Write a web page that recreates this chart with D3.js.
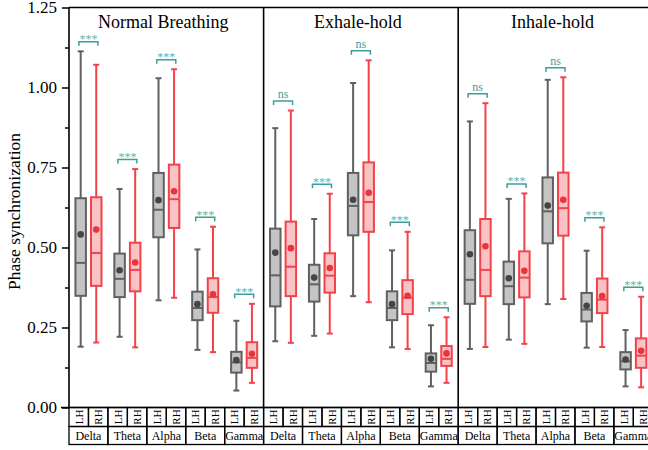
<!DOCTYPE html>
<html>
<head>
<meta charset="utf-8">
<script src="https://cdn.jsdelivr.net/npm/d3@7"></script>
<style>
  body { margin: 0; background: #fff; }
  text { font-family: "Liberation Serif", "Times New Roman", serif; }
</style>
</head>
<body>
<div id="chart"></div>
<script>
const conditions = ['Normal Breathing', 'Exhale-hold', 'Inhale-hold'];
const bands = ['Delta', 'Theta', 'Alpha', 'Beta', 'Gamma'];
const hands = ['LH', 'RH'];

// each row: [lower whisker, q1, median, q3, upper whisker, mean]
const normalLH = [[0.190, 0.349, 0.452, 0.654, 1.113, 0.541], [0.221, 0.345, 0.402, 0.481, 0.683, 0.429], [0.335, 0.532, 0.618, 0.733, 1.029, 0.648], [0.180, 0.273, 0.311, 0.362, 0.494, 0.323], [0.053, 0.109, 0.141, 0.174, 0.271, 0.148]];
const normalRH = [[0.203, 0.380, 0.483, 0.657, 1.071, 0.556], [0.188, 0.363, 0.430, 0.515, 0.745, 0.453], [0.343, 0.561, 0.651, 0.759, 1.057, 0.676], [0.173, 0.296, 0.345, 0.404, 0.565, 0.354], [0.077, 0.124, 0.155, 0.204, 0.324, 0.168]];
const exhaleLH = [[0.207, 0.316, 0.413, 0.559, 0.873, 0.484], [0.224, 0.331, 0.385, 0.446, 0.589, 0.406], [0.348, 0.538, 0.630, 0.733, 1.014, 0.649], [0.188, 0.273, 0.311, 0.363, 0.491, 0.323], [0.066, 0.112, 0.139, 0.169, 0.257, 0.152]];
const exhaleRH = [[0.202, 0.348, 0.440, 0.581, 0.928, 0.498], [0.231, 0.359, 0.412, 0.482, 0.668, 0.436], [0.329, 0.549, 0.642, 0.766, 1.085, 0.671], [0.183, 0.292, 0.343, 0.398, 0.549, 0.349], [0.077, 0.130, 0.152, 0.192, 0.282, 0.169]];
const inhaleLH = [[0.183, 0.324, 0.399, 0.554, 0.894, 0.479], [0.212, 0.323, 0.379, 0.456, 0.652, 0.404], [0.323, 0.513, 0.613, 0.719, 1.024, 0.631], [0.187, 0.269, 0.306, 0.358, 0.490, 0.318], [0.066, 0.119, 0.144, 0.173, 0.242, 0.150]];
const inhaleRH = [[0.189, 0.348, 0.430, 0.589, 0.951, 0.504], [0.199, 0.344, 0.406, 0.488, 0.669, 0.427], [0.339, 0.537, 0.623, 0.734, 1.032, 0.649], [0.189, 0.295, 0.337, 0.403, 0.563, 0.348], [0.063, 0.124, 0.162, 0.216, 0.346, 0.177]];

const normalSig = ['***', '***', '***', '***', '***'];
const exhaleSig = ['ns', '***', 'ns', '***', '***'];
const inhaleSig = ['ns', '***', 'ns', '***', '***'];

const yTicks = [0, 0.25, 0.5, 0.75, 1.0, 1.25];
const yMinorTicks = [0.125, 0.375, 0.625, 0.875, 1.125];

const panels = [
  { name: conditions[0], LH: normalLH, RH: normalRH, sig: normalSig },
  { name: conditions[1], LH: exhaleLH, RH: exhaleRH, sig: exhaleSig },
  { name: conditions[2], LH: inhaleLH, RH: inhaleRH, sig: inhaleSig }
];

const w = 648, h = 450;
const plotLeft = 69, plotTop = 7.5, plotBottom = 407.5;
const panelW = 194.6;

const colors = {
  LH: { stroke: '#606060', fill: '#c4c4c4', mean: '#454545' },
  RH: { stroke: '#f2434b', fill: '#f9c3c5', mean: '#e8353c' }
};
const teal = '#3f9d99';

const svg = d3.select('#chart').append('svg')
  .attr('width', w).attr('height', h);

const y = d3.scaleLinear().domain([0, 1.25]).range([plotBottom, plotTop]);
const panelX = d3.scaleBand().domain(conditions).range([plotLeft, plotLeft + 3 * panelW]);
const groupX = d3.scaleBand().domain(bands).range([0, panelX.bandwidth()]);
const handX = d3.scalePoint().domain(hands).range([0, groupX.bandwidth()]).padding(0.75);
const cellW = groupX.bandwidth() / 2;
const boxW = 10.5, capW = 6;

// y axis
const yAxis = svg.append('g')
  .attr('transform', `translate(${plotLeft},0)`)
  .call(d3.axisLeft(y).tickValues(yTicks).tickSize(7).tickFormat(d3.format('.2f')));
yAxis.select('.domain').remove();
yAxis.selectAll('line').attr('stroke', '#000').attr('stroke-width', 1.5);
yAxis.selectAll('text').attr('font-size', 17).attr('x', -12)
  .style('font-family', '"Liberation Serif", serif');

const yMinor = svg.append('g')
  .attr('transform', `translate(${plotLeft},0)`)
  .call(d3.axisLeft(y).tickValues(yMinorTicks).tickSize(4).tickFormat(''));
yMinor.select('.domain').remove();
yMinor.selectAll('line').attr('stroke', '#000').attr('stroke-width', 1.5);

svg.append('text')
  .attr('transform', `translate(20,${(plotTop + plotBottom) / 2 + 4}) rotate(-90)`)
  .attr('text-anchor', 'middle')
  .attr('font-size', 17.5)
  .text('Phase synchronization');

panels.forEach(p => {
  const g = svg.append('g').attr('transform', `translate(${panelX(p.name)},0)`);

  g.append('text')
    .attr('x', panelX.bandwidth() / 2 - 3)
    .attr('y', 28)
    .attr('text-anchor', 'middle')
    .attr('font-size', 18)
    .text(p.name);

  bands.forEach((b, i) => {
    let topMost = plotBottom;
    hands.forEach(hd => {
      const d = p[hd][i];
      const cx = groupX(b) + handX(hd);
      const c = colors[hd];
      topMost = Math.min(topMost, y(d[4]));

      g.append('line')
        .attr('x1', cx).attr('x2', cx)
        .attr('y1', y(d[0])).attr('y2', y(d[4]))
        .attr('stroke', c.stroke).attr('stroke-width', 2);
      [d[0], d[4]].forEach(v => {
        g.append('line')
          .attr('x1', cx - capW / 2).attr('x2', cx + capW / 2)
          .attr('y1', y(v)).attr('y2', y(v))
          .attr('stroke', c.stroke).attr('stroke-width', 2);
      });
      g.append('rect')
        .attr('x', cx - boxW / 2).attr('width', boxW)
        .attr('y', y(d[3])).attr('height', y(d[1]) - y(d[3]))
        .attr('fill', c.fill).attr('stroke', c.stroke).attr('stroke-width', 2);
      g.append('line')
        .attr('x1', cx - boxW / 2).attr('x2', cx + boxW / 2)
        .attr('y1', y(d[2])).attr('y2', y(d[2]))
        .attr('stroke', c.stroke).attr('stroke-width', 2);
      g.append('circle')
        .attr('cx', cx).attr('cy', y(d[5])).attr('r', 3.3)
        .attr('fill', c.mean);
    });

    // significance bracket
    const gc = groupX(b) + groupX.bandwidth() / 2;
    const by = topMost - 9.5;
    g.append('path')
      .attr('d', `M${gc - 9.5},${by + 4}V${by}H${gc + 9.5}V${by + 4}`)
      .attr('fill', 'none').attr('stroke', teal).attr('stroke-width', 1.5);
    const s = p.sig[i];
    g.append('text')
      .attr('x', gc)
      .attr('y', s === 'ns' ? by - 3 : by + 1.5)
      .attr('text-anchor', 'middle')
      .attr('font-size', 12)
      .attr('fill', s === 'ns' ? teal : '#5cb5b0')
      .text(s);

    // category table under the axis
    hands.forEach((hd, k) => {
      const x0 = groupX(b) + k * cellW;
      g.append('rect')
        .attr('x', x0).attr('y', plotBottom)
        .attr('width', cellW).attr('height', 19)
        .attr('fill', 'none').attr('stroke', '#000').attr('stroke-width', 1.3);
      g.append('text')
        .attr('transform', `translate(${x0 + cellW / 2 + 4},${plotBottom + 9.5}) rotate(-90)`)
        .attr('text-anchor', 'middle')
        .attr('font-size', 11)
        .text(hd);
    });
    g.append('rect')
      .attr('x', groupX(b)).attr('y', plotBottom + 19)
      .attr('width', groupX.bandwidth()).attr('height', 18)
      .attr('fill', 'none').attr('stroke', '#000').attr('stroke-width', 1.3);
    g.append('text')
      .attr('x', gc).attr('y', plotBottom + 32.5)
      .attr('text-anchor', 'middle')
      .attr('font-size', 12)
      .text(b);
  });

  // panel frame
  g.append('line')
    .attr('x1', 0).attr('x2', 0).attr('y1', plotTop).attr('y2', plotBottom)
    .attr('stroke', '#000').attr('stroke-width', 1.6);
});

// frame top and axis line
svg.append('line')
  .attr('x1', plotLeft).attr('x2', w).attr('y1', plotTop).attr('y2', plotTop)
  .attr('stroke', '#000').attr('stroke-width', 1.6);
svg.append('line')
  .attr('x1', 61).attr('x2', w).attr('y1', plotBottom).attr('y2', plotBottom)
  .attr('stroke', '#000').attr('stroke-width', 1.6);
</script>
</body>
</html>
